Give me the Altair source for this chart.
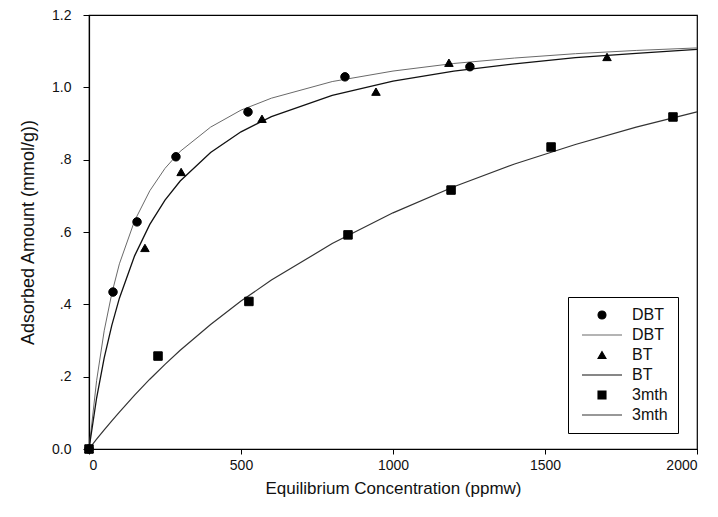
import altair as alt
import pandas as pd

# measured points
dbt_x = [0, 79, 158, 286, 523, 842, 1253]
dbt_y = [0.0, 0.434, 0.628, 0.808, 0.932, 1.029, 1.057]
bt_x = [0, 184, 303, 569, 944, 1184, 1704]
bt_y = [0.0, 0.556, 0.766, 0.913, 0.988, 1.068, 1.084]
mth_x = [0, 227, 526, 852, 1191, 1520, 1921]
mth_y = [0.0, 0.257, 0.408, 0.592, 0.716, 0.835, 0.918]

# fitted curves
fit_x = [0, 25, 50, 75, 100, 150, 200, 250, 300, 400, 500, 600, 800, 1000, 1200, 1400, 1600, 1800, 2000]
dbt_fit = [0.0, 0.189, 0.327, 0.430, 0.512, 0.631, 0.714, 0.776, 0.823, 0.890, 0.937, 0.970, 1.016, 1.045, 1.066, 1.081, 1.093, 1.102, 1.109]
bt_fit = [0.0, 0.141, 0.252, 0.342, 0.417, 0.534, 0.621, 0.688, 0.741, 0.820, 0.877, 0.919, 0.978, 1.017, 1.045, 1.065, 1.082, 1.094, 1.105]
mth_fit = [0.0, 0.027, 0.053, 0.078, 0.102, 0.149, 0.193, 0.234, 0.273, 0.344, 0.409, 0.467, 0.568, 0.653, 0.725, 0.788, 0.842, 0.890, 0.932]

keys = ["DBT|pt", "DBT|fit", "BT|pt", "BT|fit", "3mth|pt", "3mth|fit"]
LINE = "M-5,0L5,0"
shapes = ["circle", LINE, "triangle-up", LINE, "square", LINE]
key_colors = ["black", "#6a6a6a", "black", "#111111", "black", "#333333"]

pts = pd.DataFrame(
    [{"x": a, "y": b, "key": "DBT|pt"} for a, b in zip(dbt_x, dbt_y)]
    + [{"x": a, "y": b, "key": "BT|pt"} for a, b in zip(bt_x, bt_y)]
    + [{"x": a, "y": b, "key": "3mth|pt"} for a, b in zip(mth_x, mth_y)]
)
fits = pd.DataFrame(
    [{"x": a, "y": b, "s": "DBT"} for a, b in zip(fit_x, dbt_fit)]
    + [{"x": a, "y": b, "s": "BT"} for a, b in zip(fit_x, bt_fit)]
    + [{"x": a, "y": b, "s": "3mth"} for a, b in zip(fit_x, mth_fit)]
)

xenc = alt.X("x:Q", scale=alt.Scale(domain=[0, 2000], nice=False),
             axis=alt.Axis(title="Equilibrium Concentration (ppmw)", values=[0, 500, 1000, 1500, 2000],
                           format="d", grid=False, tickSize=5, labelPadding=4, titlePadding=8,
                           titleFontSize=17))
yenc = alt.Y("y:Q", scale=alt.Scale(domain=[0, 1.2], nice=False),
             axis=alt.Axis(title="Adsorbed Amount (mmol/g))", values=[0, 0.2, 0.4, 0.6, 0.8, 1.0, 1.2],
                           format=".1f",
                           labelExpr="datum.value > 0 && datum.value < 1 ? replace(datum.label, '0.', '.') : datum.label",
                           grid=False, tickSize=6, labelPadding=12, titlePadding=14,
                           titleFontSize=18))

line_styles = {"DBT": ("#6a6a6a", 1.0), "BT": ("#111111", 1.3), "3mth": ("#333333", 1.2)}
line_layers = []
for s, (col, w) in line_styles.items():
    line_layers.append(
        alt.Chart(fits[fits.s == s]).mark_line(color=col, strokeWidth=w).encode(x=xenc, y=yenc)
    )

leg = alt.Legend(title=None, orient="none", legendX=479, legendY=282,
                 labelExpr="split(datum.label, '|')[0]",
                 strokeColor="black", padding=10, rowPadding=4,
                 symbolSize=64, symbolStrokeWidth=1.1,
                 symbolOffset=16, labelOffset=22, symbolOpacity=1,
                 labelFont="Liberation Sans", labelFontSize=16, labelColor="#111")

points = alt.Chart(pts).mark_point(filled=True, strokeWidth=1, size=72, opacity=1).encode(
    x=xenc, y=yenc,
    shape=alt.Shape("key:N", scale=alt.Scale(domain=keys, range=shapes), legend=leg),
    stroke=alt.Stroke("key:N", scale=alt.Scale(domain=keys, range=key_colors), legend=leg),
    fill=alt.Fill("key:N", scale=alt.Scale(domain=keys, range=key_colors), legend=leg),
)

chart = alt.layer(*line_layers, points).properties(
    width=608, height=434,
    autosize=alt.AutoSizeParams(type="none"),
    padding={"left": 89, "top": 15, "right": 21, "bottom": 68},
).configure_view(stroke="black", strokeWidth=1.2).configure_axis(
    domainColor="black", tickColor="black", labelFont="Liberation Sans", labelFontSize=14,
    labelColor="#111", titleFont="Liberation Sans", titleFontWeight="normal",
    titleColor="#111", domainWidth=1.2,
)

chart.save("out.html", embed_options={"renderer": "svg", "actions": False})
